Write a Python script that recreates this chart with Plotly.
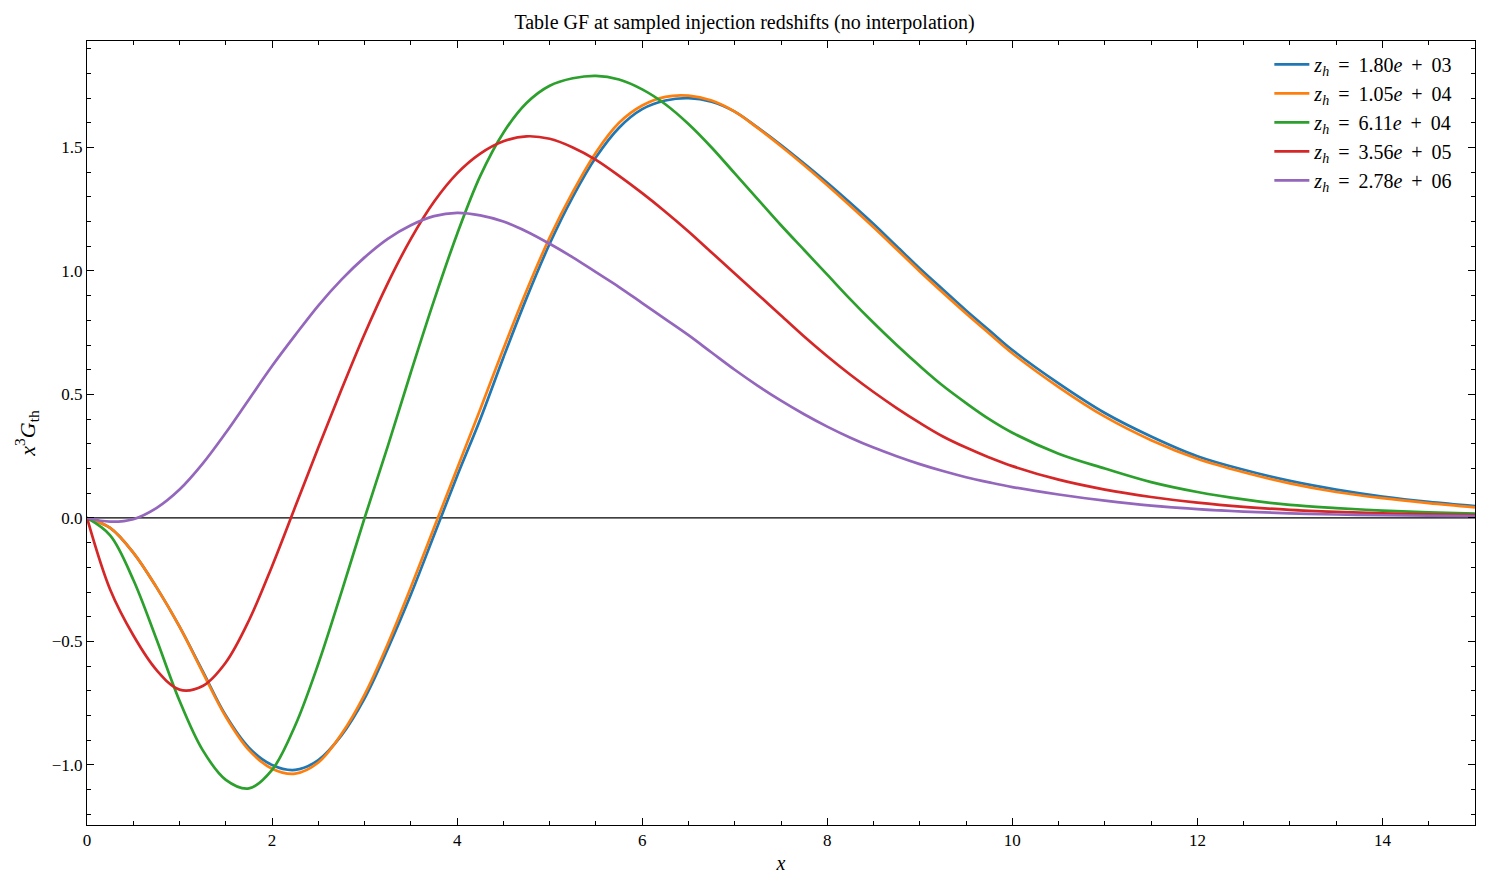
import plotly.graph_objects as go

# x grid (shared by all curves): 0.25 steps to 10, then 0.5 steps to 15
x_vals = [0, 0.25, 0.5, 0.75, 1, 1.25, 1.5, 1.75, 2, 2.25, 2.5, 2.75, 3, 3.25, 3.5, 3.75,
          4, 4.25, 4.5, 4.75, 5, 5.25, 5.5, 5.75, 6, 6.25, 6.5, 6.75, 7, 7.25, 7.5, 7.75,
          8, 8.25, 8.5, 8.75, 9, 9.25, 9.5, 9.75, 10, 10.5, 11, 11.5, 12, 12.5, 13, 13.5,
          14, 14.5, 15]

labels = ["1.80", "1.05", "6.11", "3.56", "2.78"]
exponents = ["03", "04", "04", "05", "06"]
colors = ["#1f77b4", "#ff7f0e", "#2ca02c", "#d62728", "#9467bd"]

y_z180e03 = [0, -0.04, -0.14, -0.28, -0.44, -0.62, -0.80, -0.93, -1.00, -1.02, -0.98, -0.88,
             -0.73, -0.53, -0.31, -0.07, 0.17, 0.40, 0.65, 0.89, 1.11, 1.30, 1.46, 1.58,
             1.655, 1.69, 1.70, 1.685, 1.645, 1.58, 1.51, 1.435, 1.357, 1.275, 1.19, 1.10,
             1.01, 0.925, 0.84, 0.76, 0.68, 0.545, 0.425, 0.33, 0.25, 0.195, 0.15, 0.115,
             0.087, 0.065, 0.048]
y_z105e04 = [0, -0.04, -0.14, -0.28, -0.44, -0.625, -0.805, -0.94, -1.015, -1.035, -0.99,
             -0.875, -0.715, -0.51, -0.28, -0.04, 0.20, 0.44, 0.685, 0.92, 1.135, 1.32, 1.48,
             1.60, 1.67, 1.705, 1.71, 1.69, 1.645, 1.578, 1.505, 1.428, 1.347, 1.263, 1.177,
             1.088, 0.998, 0.912, 0.828, 0.747, 0.667, 0.53, 0.41, 0.315, 0.24, 0.185, 0.14,
             0.105, 0.08, 0.06, 0.043]
y_z611e04 = [0, -0.07, -0.25, -0.49, -0.74, -0.94, -1.06, -1.095, -1.02, -0.84, -0.59,
             -0.30, 0.0, 0.29, 0.59, 0.88, 1.15, 1.385, 1.56, 1.68, 1.75, 1.78, 1.79, 1.775,
             1.735, 1.675, 1.595, 1.50, 1.395, 1.29, 1.185, 1.085, 0.985, 0.885, 0.79, 0.70,
             0.615, 0.535, 0.465, 0.40, 0.345, 0.26, 0.20, 0.145, 0.105, 0.075, 0.053, 0.04,
             0.03, 0.023, 0.018]
y_z356e05 = [0, -0.29, -0.475, -0.615, -0.695, -0.68, -0.585, -0.415, -0.195, 0.045, 0.285,
             0.52, 0.745, 0.95, 1.13, 1.28, 1.395, 1.475, 1.525, 1.545, 1.535, 1.50, 1.45,
             1.385, 1.315, 1.24, 1.16, 1.075, 0.99, 0.905, 0.82, 0.735, 0.655, 0.58, 0.51,
             0.445, 0.385, 0.33, 0.285, 0.245, 0.21, 0.155, 0.115, 0.085, 0.062, 0.045,
             0.033, 0.025, 0.019, 0.015, 0.012]
y_z278e06 = [0, -0.015, -0.005, 0.04, 0.115, 0.22, 0.345, 0.48, 0.615, 0.74, 0.86, 0.965,
             1.055, 1.13, 1.185, 1.222, 1.235, 1.225, 1.20, 1.16, 1.11, 1.055, 0.995, 0.935,
             0.87, 0.805, 0.74, 0.67, 0.60, 0.535, 0.475, 0.42, 0.37, 0.325, 0.285, 0.25,
             0.218, 0.19, 0.165, 0.144, 0.125, 0.095, 0.07, 0.05, 0.036, 0.026, 0.019,
             0.014, 0.011, 0.009, 0.008]

series = [y_z180e03, y_z105e04, y_z611e04, y_z356e05, y_z278e06]

SERIF = "Liberation Serif, DejaVu Serif, serif"
SP = "\u00a0\u2009"

fig = go.Figure()
for lab, ex, col, ys in zip(labels, exponents, colors, series):
    fig.add_trace(go.Scatter(
        x=x_vals, y=ys, mode="lines",
        line=dict(color=col, width=2.7, shape="spline", smoothing=1.0),
        name=f"<i>z<sub>h</sub></i>{SP}={SP}{lab}<i>e</i>{SP}+{SP}{ex}",
    ))

fig.add_hline(y=0, line=dict(color="black", width=1.2), layer="below")

axis_common = dict(
    showgrid=False, zeroline=False, showline=True, linecolor="black", linewidth=1,
    mirror="allticks", ticks="inside", ticklen=7, tickwidth=1, tickcolor="black",
    tickfont=dict(family=SERIF, size=17, color="black"),
)

fig.update_xaxes(
    range=[0, 15], tickmode="linear", tick0=0, dtick=2,
    minor=dict(ticks="inside", dtick=0.5, ticklen=4, tickcolor="black", tickwidth=1),
    title=dict(text="<i>x</i>", font=dict(family=SERIF, size=20, color="black"), standoff=6),
    **axis_common,
)
fig.update_yaxes(
    range=[-1.243, 1.931], tickmode="array",
    tickvals=[-1.0, -0.5, 0.0, 0.5, 1.0, 1.5],
    ticktext=["\u22121.0", "\u22120.5", "0.0", "0.5", "1.0", "1.5"],
    minor=dict(ticks="inside", dtick=0.1, tick0=0, ticklen=4, tickcolor="black", tickwidth=1),
    title=dict(text="<i>x</i><sup>3</sup><i>G</i><sub>th</sub>",
               font=dict(family=SERIF, size=22, color="black"), standoff=10),
    **axis_common,
)

fig.update_layout(
    width=1489, height=889,
    margin=dict(l=87, r=14, t=41, b=64),
    paper_bgcolor="white", plot_bgcolor="white",
    title=dict(text="Table GF at sampled injection redshifts (no interpolation)",
               x=0.5, xref="container", xanchor="center",
               y=1 - 22 / 889, yref="container", yanchor="middle",
               font=dict(family=SERIF, size=20, color="black")),
    legend=dict(x=0.988, y=0.995, xanchor="right", yanchor="top",
                bgcolor="rgba(0,0,0,0)", borderwidth=0,
                font=dict(family=SERIF, size=20, color="black"),
                itemwidth=35),
    showlegend=True,
)

fig.write_html("out.html")
